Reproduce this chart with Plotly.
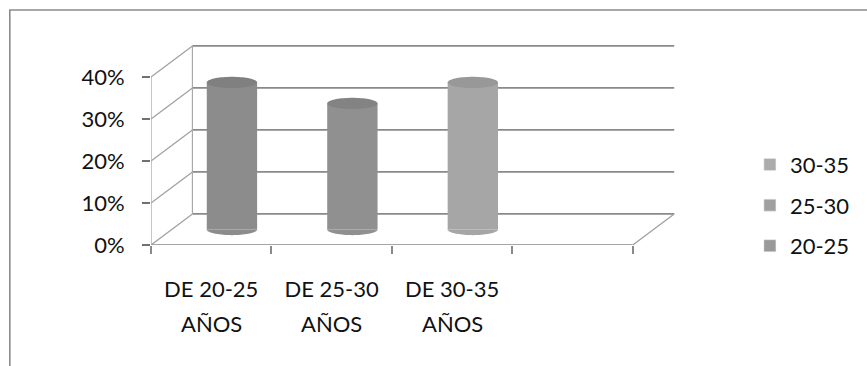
import numpy as np
import plotly.graph_objects as go

# ---- data -------------------------------------------------------------
age_ranges = ["DE 20-25", "DE 25-30", "DE 30-35", ""]
unit_label = "AÑOS"
series_names = ["20-25", "25-30", "30-35"]
values = [35, 30, 35]                      # percent, one cylinder per series
y_ticks = [0, 10, 20, 30, 40]

# ---- styling ----------------------------------------------------------
body_colors = ["#8c8c8c", "#909090", "#a6a6a6"]
top_colors = ["#808080", "#838383", "#989898"]
legend_colors = ["#999999", "#a0a0a0", "#acacac"]
grid_color = "#8a8a8a"
text_color = "#111111"
FONT = "Lato"

# oblique 3-D projection: depth offset in (category, percent) units
DEPTH_X = 0.344
DEPTH_Y = 7.4
CYL_W = 0.418          # cylinder diameter, category units
CYL_B = 1.35           # ellipse semi-minor axis, percent units

n_slots = len(age_ranges)
fig = go.Figure()

# ---- cylinders --------------------------------------------------------
t = np.linspace(0, 2 * np.pi, 73)
tb = np.linspace(np.pi, 2 * np.pi, 37)
for i, (name, v) in enumerate(zip(series_names, values)):
    cx = i + 0.5 + DEPTH_X / 2
    base = DEPTH_Y / 2
    a = CYL_W / 2
    # body
    fig.add_trace(go.Bar(
        x=[cx], y=[v], base=[base], width=CYL_W, name=name,
        marker=dict(color=body_colors[i], line=dict(width=0)),
        showlegend=False, hoverinfo="skip",
    ))
    # rounded bottom
    fig.add_trace(go.Scatter(
        x=cx + a * np.cos(tb), y=base + CYL_B * np.sin(tb),
        fill="toself", fillcolor=body_colors[i], mode="none",
        showlegend=False, hoverinfo="skip",
    ))
    # top cap
    fig.add_trace(go.Scatter(
        x=cx + a * np.cos(t), y=base + v + CYL_B * np.sin(t),
        fill="toself", fillcolor=top_colors[i], mode="none",
        showlegend=False, hoverinfo="skip",
    ))

# legend entries (square swatches), last series listed first
for i in reversed(range(len(series_names))):
    name = series_names[i]
    fig.add_trace(go.Bar(
        x=[None], y=[None], name=name, legendgroup=name,
        marker=dict(color=legend_colors[i]), showlegend=True,
    ))

# ---- 3-D frame: back wall, side wall and floor -------------------------
shapes = []
line = dict(color=grid_color, width=1.6)
for v in y_ticks:
    # back-wall gridline
    shapes.append(dict(type="line", xref="x", yref="y", layer="below",
                       x0=DEPTH_X, x1=n_slots + DEPTH_X,
                       y0=v + DEPTH_Y, y1=v + DEPTH_Y, line=line))
    # side-wall diagonal
    shapes.append(dict(type="line", xref="x", yref="y", layer="below",
                       x0=0, x1=DEPTH_X, y0=v, y1=v + DEPTH_Y,
                       line=dict(color="#a0a0a0", width=1.3)))
# back-wall left edge
shapes.append(dict(type="line", xref="x", yref="y", layer="below",
                   x0=DEPTH_X, x1=DEPTH_X, y0=DEPTH_Y,
                   y1=y_ticks[-1] + DEPTH_Y,
                   line=dict(color="#a8a8a8", width=1.2)))
# floor right edge
shapes.append(dict(type="line", xref="x", yref="y", layer="below",
                   x0=n_slots, x1=n_slots + DEPTH_X, y0=0, y1=DEPTH_Y,
                   line=dict(color="#a0a0a0", width=1.3)))
# front axis lines
shapes.append(dict(type="line", xref="x", yref="y", layer="below",
                   x0=0, x1=n_slots, y0=0, y1=0, line=line))
shapes.append(dict(type="line", xref="x", yref="y", layer="below",
                   x0=0, x1=0, y0=0, y1=y_ticks[-1],
                   line=dict(color="#a8a8a8", width=1.3)))
# outer chart border
shapes.append(dict(type="rect", xref="paper", yref="paper", layer="below",
                   x0=-0.2605, x1=1.40, y0=-0.62, y1=1.093,
                   line=dict(color="#8c8c8c", width=1.6)))

# second line of each category label
annotations = [
    dict(x=i + 0.5, xref="x", y=-0.363, yref="paper", yanchor="middle",
         text=unit_label, showarrow=False,
         font=dict(family=FONT, size=22, color=text_color))
    for i, r in enumerate(age_ranges) if r
]

# ---- layout -------------------------------------------------------------
L, R, T, B = 151, 167, 30, 121
W, H = 867, 366
plot_w = W - L - R
plot_h = H - T - B
x_max = plot_w / 122.0
y_max = plot_h / 4.2

fig.update_layout(
    width=W, height=H,
    margin=dict(l=L, r=R, t=T, b=B, pad=0),
    paper_bgcolor="white", plot_bgcolor="rgba(0,0,0,0)",
    barmode="overlay",
    shapes=shapes,
    annotations=annotations,
    font=dict(family=FONT, size=22, color=text_color),
    showlegend=True,
    legend=dict(
        x=1.105, xanchor="left", y=0.185, yanchor="middle",
        traceorder="grouped", tracegroupgap=9,
        font=dict(family=FONT, size=22, color=text_color),
        bgcolor="rgba(0,0,0,0)", itemwidth=30,
    ),
    xaxis=dict(
        range=[0, x_max], showgrid=False, zeroline=False, showline=False,
        tickmode="array",
        tickvals=[i + 0.5 for i in range(n_slots)], ticktext=age_ranges,
        ticks="", ticklabelstandoff=29,
        tickfont=dict(family=FONT, size=22, color=text_color),
        minor=dict(tickmode="array", tickvals=list(range(n_slots + 1)),
                   ticks="outside", ticklen=8, tickwidth=1.6,
                   tickcolor=grid_color, showgrid=False),
        fixedrange=True,
    ),
    yaxis=dict(
        range=[0, y_max], showgrid=False, zeroline=False, showline=False,
        tickmode="array", tickvals=y_ticks,
        ticktext=[f"{v}%" for v in y_ticks],
        ticks="outside", ticklen=8, tickwidth=1.6, tickcolor="#707070",
        ticklabelstandoff=13,
        tickfont=dict(family=FONT, size=22, color=text_color),
        fixedrange=True,
    ),
)

fig.write_html("out.html")
